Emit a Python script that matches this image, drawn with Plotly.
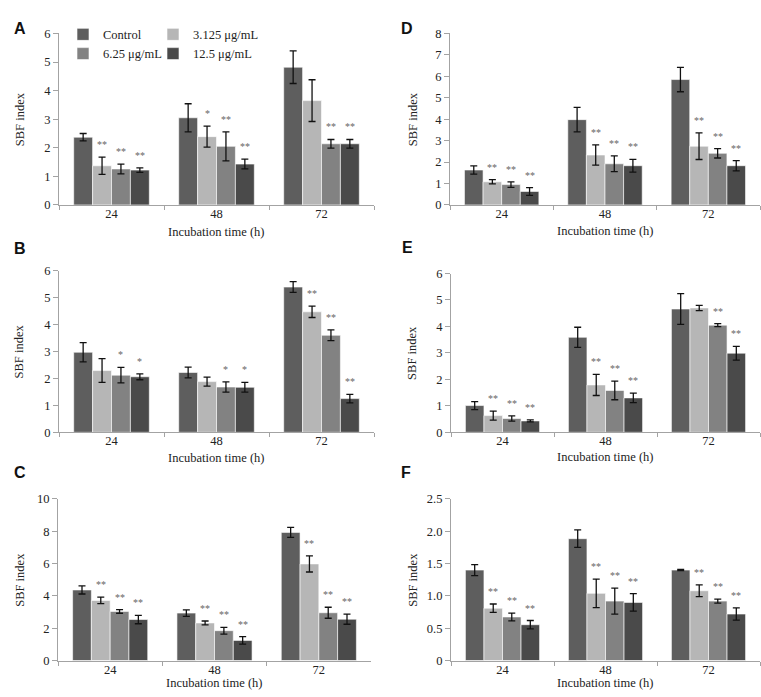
import plotly.graph_objects as go

times = ["24", "48", "72"]
groups = ["Control", "3.125 μg/mL", "6.25 μg/mL", "12.5 μg/mL"]
colors = ["#5e5e5e", "#b6b6b6", "#828282", "#4a4a4a"]

# values per group (rows: Control, 3.125, 6.25, 12.5; columns: 24, 48, 72 h)
A_mean = [[2.37, 3.05, 4.82], [1.37, 2.39, 3.65], [1.26, 2.05, 2.14], [1.22, 1.43, 2.14]]
A_err = [[0.13, 0.49, 0.57], [0.30, 0.37, 0.73], [0.17, 0.51, 0.15], [0.08, 0.17, 0.15]]
A_star = [["", "", ""], ["**", "*", ""], ["**", "**", "**"], ["**", "**", "**"]]

B_mean = [[2.97, 2.22, 5.39], [2.29, 1.88, 4.47], [2.12, 1.68, 3.60], [2.06, 1.67, 1.25]]
B_err = [[0.36, 0.20, 0.20], [0.44, 0.17, 0.21], [0.29, 0.19, 0.20], [0.11, 0.18, 0.16]]
B_star = [["", "", ""], ["", "", "**"], ["*", "*", "**"], ["*", "*", "**"]]

C_mean = [[4.37, 2.94, 7.93], [3.72, 2.33, 5.98], [3.04, 1.85, 2.96], [2.54, 1.25, 2.56]]
C_err = [[0.25, 0.20, 0.31], [0.20, 0.12, 0.50], [0.11, 0.21, 0.34], [0.26, 0.23, 0.31]]
C_star = [["", "", ""], ["**", "**", "**"], ["**", "**", "**"], ["**", "**", "**"]]

D_mean = [[1.63, 3.98, 5.85], [1.08, 2.33, 2.74], [0.95, 1.92, 2.41], [0.63, 1.83, 1.83]]
D_err = [[0.19, 0.57, 0.57], [0.10, 0.47, 0.62], [0.13, 0.37, 0.22], [0.18, 0.30, 0.24]]
D_star = [["", "", ""], ["**", "**", "**"], ["**", "**", "**"], ["**", "**", "**"]]

E_mean = [[1.01, 3.59, 4.66], [0.63, 1.79, 4.70], [0.52, 1.58, 4.05], [0.43, 1.30, 2.99]]
E_err = [[0.15, 0.38, 0.58], [0.17, 0.40, 0.10], [0.10, 0.35, 0.06], [0.04, 0.18, 0.26]]
E_star = [["", "", ""], ["**", "**", ""], ["**", "**", "**"], ["**", "**", "**"]]

F_mean = [[1.40, 1.885, 1.40], [0.81, 1.04, 1.08], [0.675, 0.92, 0.92], [0.555, 0.90, 0.72]]
F_err = [[0.085, 0.135, 0.01], [0.065, 0.22, 0.09], [0.06, 0.20, 0.03], [0.065, 0.135, 0.095]]
F_star = [["", "", ""], ["**", "**", "**"], ["**", "**", "**"], ["**", "**", "**"]]

A_ticks = [0, 1, 2, 3, 4, 5, 6]
B_ticks = [0, 1, 2, 3, 4, 5, 6]
C_ticks = [0, 2, 4, 6, 8, 10]
D_ticks = [0, 1, 2, 3, 4, 5, 6, 7, 8]
E_ticks = [0, 1, 2, 3, 4, 5, 6]
F_ticks = [0, 0.5, 1.0, 1.5, 2.0, 2.5]
F_ticktext = ["0", "0.5", "1.0", "1.5", "2.0", "2.5"]

W, H = 761, 697
def fx(p):
    return p / W
def fy(p):
    return 1 - p / H

# panel layout in pixels: (letter, means, errs, stars, ticks, ticktext, x0, x1, ytop, ybot, letter_x, letter_y, ytitle_x, xtitle_y)
panels = [
    ("A", A_mean, A_err, A_star, A_ticks, None, 59, 374, 27, 202, 20, 22, 20, 230),
    ("B", B_mean, B_err, B_star, B_ticks, None, 59, 374, 269, 434, 20, 246, 19, 460),
    ("C", C_mean, C_err, C_star, C_ticks, None, 58, 371, 502, 667, 20, 475, 20, 690),
    ("D", D_mean, D_err, D_star, D_ticks, None, 450, 760, 27, 202, 407, 22, 413, 229),
    ("E", E_mean, E_err, E_star, E_ticks, None, 451, 760, 272, 434, 407, 245, 412, 459),
    ("F", F_mean, F_err, F_star, F_ticks, F_ticktext, 451, 760, 502, 667, 406, 475, 413, 690),
]

bargap = 0.28
bw = (1 - bargap) / 4
offsets = [-(1 - bargap) / 2 + bw * (i + 0.5) for i in range(4)]

serif = "Liberation Serif"
axcol = "#a3a3a3"
txtcol = "#222222"
fs = 12.5
fig = go.Figure()
annotations = []
layout_axes = {}

for k, (letter, means, errs, stars, ticks, ticktext, x0, x1, yt, yb, lx, ly, tx, ty) in enumerate(panels):
    n = "" if k == 0 else str(k + 1)
    xa, ya = "x" + n, "y" + n
    for i in range(4):
        fig.add_trace(go.Bar(
            x=times, y=means[i], name=groups[i], xaxis=xa, yaxis=ya,
            marker=dict(color=colors[i], line=dict(color="white", width=0.6)),
            error_y=dict(type="data", array=errs[i], color="#111111", thickness=1.3, width=3.5),
            showlegend=(k == 0), legendgroup=groups[i],
            legend="legend" if i in (0, 2) else "legend2",
        ))
        for j in range(3):
            if stars[i][j]:
                annotations.append(dict(
                    x=j + offsets[i], y=means[i][j] + errs[i][j], xref=xa, yref=ya,
                    text=stars[i][j], showarrow=False, yanchor="bottom", yshift=5,
                    font=dict(family=serif, size=10, color="#666666"),
                ))
    layout_axes["xaxis" + n] = dict(
        domain=[fx(x0), fx(x1)], anchor=ya, type="category",
        showline=True, linecolor=axcol, linewidth=1.2,
        ticks="outside", tickson="boundaries", ticklen=4, tickcolor=axcol,
        ticklabelstandoff=-3,
        tickfont=dict(family=serif, size=fs, color=txtcol),
        showgrid=False, zeroline=False, fixedrange=True,
    )
    layout_axes["yaxis" + n] = dict(
        domain=[fy(yb), fy(yt)], anchor=xa, range=[0, ticks[-1]],
        tickvals=ticks, ticktext=ticktext if ticktext else [str(t) for t in ticks],
        showline=True, linecolor=axcol, linewidth=1.2,
        ticks="outside", ticklen=5, tickcolor=axcol,
        tickfont=dict(family=serif, size=fs, color=txtcol),
        showgrid=False, zeroline=False, fixedrange=True,
    )
    annotations.append(dict(
        x=fx(lx), y=fy(ly), xref="paper", yref="paper", text="<b>" + letter + "</b>",
        showarrow=False, xanchor="center", yanchor="middle",
        font=dict(family="Liberation Sans", size=16, color="#111111"),
    ))
    annotations.append(dict(
        x=fx(tx), y=(fy(yb) + fy(yt)) / 2, xref="paper", yref="paper", text="SBF index",
        textangle=-90, showarrow=False, xanchor="center", yanchor="middle",
        font=dict(family=serif, size=fs, color=txtcol),
    ))
    annotations.append(dict(
        x=0.5, y=fy(ty), xref=xa + " domain", yref="paper", text="Incubation time (h)",
        showarrow=False, xanchor="center", yanchor="middle",
        font=dict(family=serif, size=fs, color=txtcol),
    ))

legfont = dict(family=serif, size=fs, color=txtcol)
fig.update_layout(
    width=W, height=H, margin=dict(l=0, r=0, t=0, b=0),
    paper_bgcolor="white", plot_bgcolor="white",
    font=dict(family=serif),
    barmode="group", bargap=bargap, bargroupgap=0,
    annotations=annotations,
    legend=dict(x=fx(63), y=fy(13), xanchor="left", yanchor="top", orientation="v",
                font=legfont, bgcolor="rgba(0,0,0,0)", tracegroupgap=0, itemwidth=30),
    legend2=dict(x=fx(153), y=fy(13), xanchor="left", yanchor="top", orientation="v",
                 font=legfont, bgcolor="rgba(0,0,0,0)", tracegroupgap=0, itemwidth=30),
    **layout_axes,
)

post = ("document.documentElement.style.margin='0';document.body.style.margin='0';"
        "document.body.style.padding='0';document.body.style.overflow='hidden';"
        "var gd=document.getElementById('{plot_id}');gd.style.position='absolute';"
        "gd.style.left='0px';gd.style.top='0px';")
fig.write_html("out.html", post_script=post, config={"displayModeBar": False})
